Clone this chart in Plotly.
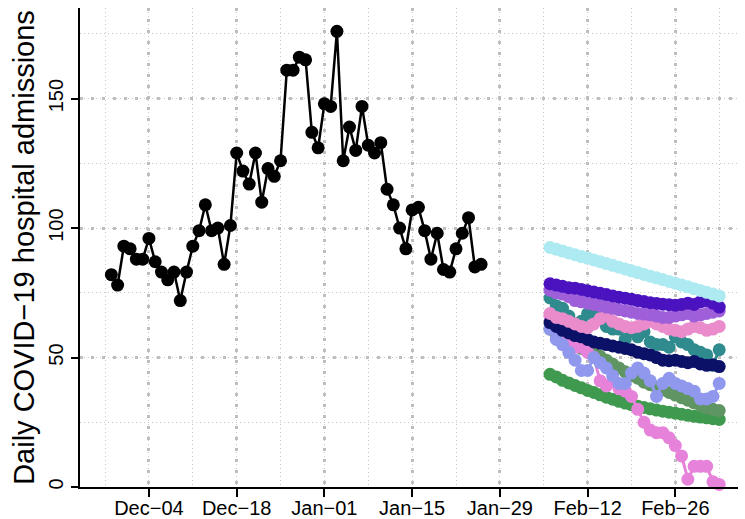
import pandas as pd
import plotly.graph_objects as go

# ---------------- data ----------------
obs_start = "2022-11-28"
observed = [82, 78, 93, 92, 88, 88, 96, 87, 83, 80,
            83, 72, 83, 93, 99, 109, 99, 100, 86, 101,
            129, 122, 117, 129, 110, 123, 120, 126, 161, 161,
            166, 165, 137, 131, 148, 147, 176, 126, 139, 130,
            147, 132, 129, 133, 115, 109, 100, 92, 107, 108,
            99, 88, 98, 84, 83, 92, 98, 104, 85, 86]

fc_start = "2023-02-06"
fc_green = [43.5, 42.5, 41.2, 40.2, 39.2, 38.3, 37.3, 36.5, 35.6, 34.7, 33.9, 33.1, 32.4, 31.8,
            31.2, 30.7, 30.2, 29.7, 29.3, 28.9, 28.5, 28.1, 27.7, 27.3, 27.0, 26.7, 26.4, 26.1]
fc_sage = [61, 59, 57.5, 56, 54.5, 53.5, 52.5, 51.5, 50.5, 49, 47.5, 46, 44.5, 43,
           42, 40.5, 39.5, 38.5, 37.5, 36.5, 35.5, 34.5, 33.5, 32.5, 31.5, 30.5, 30, 29.5]
fc_orchid = [66, 62, 60, 57, 54, 54, 52, 50, 41, 39, 41, 38, 37, 35,
             30, 25, 22, 21, 21, 19, 16, 12, 3, 8, 8, 8, 2, 1]
fc_periwinkle = [61, 57, 55, 52, 49, 45, 45, 50, 48, 46, 43, 40, 40, 44,
                 46, 44, 41, 35, 40, 42, 40, 39, 38, 37, 34, 34, 35, 40]
fc_teal = [73, 70, 69, 66, 63, 64, 67, 66, 68, 62, 61, 61, 57, 60,
           58, 60, 56, 55, 55, 54, 58, 56, 55, 53, 52, 51, 47, 53]
fc_navy = [63.5, 62, 60.5, 59.5, 58.5, 58, 57, 56, 55.5, 55, 54.5, 54, 53.5, 53,
           52, 51.5, 51, 50, 49, 48.8, 49, 48.5, 48, 48.5, 47.5, 47, 47.2, 46.5]
fc_pink = [67, 65.5, 65, 64, 63, 62, 61.5, 63, 65, 66, 64, 63, 62, 61.5,
           62, 63, 64, 63, 62, 61, 60.5, 60, 61, 62, 61.5, 60.5, 61, 62]
fc_mediumpurple = [76, 75, 74.5, 73.5, 72, 71.5, 71, 70.5, 70, 69.5, 69, 68.5, 68, 67.5,
                   67, 66.8, 66.5, 66, 65.5, 65.5, 66, 66.5, 67, 66, 66.5, 67, 67.5, 68]
fc_darkpurple = [78.5, 78, 77.5, 77, 76.8, 76.3, 75.8, 75.3, 74.8, 74.3, 73.8, 73.3, 72.9, 72.5,
                 72, 71.6, 71.2, 70.9, 70.6, 70.4, 70.2, 70.5, 71, 70.5, 71.5, 72, 71, 69.5]
fc_cyan = [92.5, 91.8, 91.1, 90.4, 89.7, 89.0, 88.4, 87.7, 87.0, 86.3, 85.6, 84.9, 84.2, 83.5,
           82.8, 82.1, 81.4, 80.8, 80.1, 79.4, 78.7, 78.0, 77.3, 76.6, 75.9, 75.2, 74.5, 73.8]

forecast_series = [
    ("green", fc_green, "#3F9A4F"),
    ("sage", fc_sage, "#5F9563"),
    ("orchid", fc_orchid, "#E782DA"),
    ("periwinkle", fc_periwinkle, "#9098EE"),
    ("teal", fc_teal, "#2F8B8E"),
    ("navy", fc_navy, "#0C1168"),
    ("pink", fc_pink, "#EA8CCB"),
    ("mediumpurple", fc_mediumpurple, "#9E5FD9"),
    ("darkpurple", fc_darkpurple, "#4A13BF"),
    ("cyan", fc_cyan, "#AEEAF2"),
]

tick_dates = ["2022-12-04", "2022-12-18", "2023-01-01", "2023-01-15",
              "2023-01-29", "2023-02-12", "2023-02-26"]
tick_labels = ["Dec\u221204", "Dec\u221218", "Jan\u221201", "Jan\u221215",
               "Jan\u221229", "Feb\u221212", "Feb\u221226"]
y_ticks = [0, 50, 100, 150]

# ---------------- figure ----------------
obs_dates = pd.date_range(obs_start, periods=len(observed), freq="D")
fig = go.Figure()

for name, vals, col in forecast_series:
    d = pd.date_range(fc_start, periods=len(vals), freq="D")
    fig.add_trace(go.Scatter(x=d, y=vals, mode="lines+markers", name=name,
                             line=dict(color=col, width=3),
                             marker=dict(color=col, size=13),
                             cliponaxis=False, showlegend=False))

fig.add_trace(go.Scatter(x=obs_dates, y=observed, mode="lines+markers",
                         line=dict(color="black", width=2.5),
                         marker=dict(color="black", size=13),
                         cliponaxis=False, showlegend=False))

font = "Liberation Sans, Arial, Helvetica, sans-serif"
major_grid = dict(showgrid=True, gridcolor="#BEBEBE", gridwidth=3, griddash="3px,8px")
minor_grid = dict(showgrid=True, gridcolor="#C8C8C8", gridwidth=1, griddash="1px,3px", ticks="")

fig.update_layout(
    width=745, height=519,
    margin=dict(l=80, r=7, t=8, b=32),
    paper_bgcolor="white", plot_bgcolor="white",
    font=dict(family=font, size=20, color="black"),
    xaxis=dict(type="date", range=["2022-11-23", "2023-03-08"], automargin=False,
               tickmode="array", tickvals=tick_dates, ticktext=tick_labels,
               ticks="outside", ticklen=8, tickwidth=2, tickcolor="black",
               ticklabelstandoff=-6,
               showline=True, linecolor="black", linewidth=2,
               zeroline=False,
               minor=dict(tick0="2022-11-27", dtick=7 * 86400000, **minor_grid),
               **major_grid),
    yaxis=dict(range=[0, 185], tickmode="array", tickvals=y_ticks, automargin=False,
               tickangle=-90,
               ticks="outside", ticklen=7, tickwidth=2, tickcolor="black",
               showline=True, linecolor="black", linewidth=2,
               zeroline=False,
               minor=dict(tick0=0, dtick=25, **minor_grid),
               title=dict(text="Daily COVID\u221219 hospital admissions",
                          font=dict(size=29), standoff=2),
               **major_grid),
)

fig.write_html("out.html", config={"displayModeBar": False},
               post_script="document.body.style.margin='0';document.body.style.overflow='hidden';")
